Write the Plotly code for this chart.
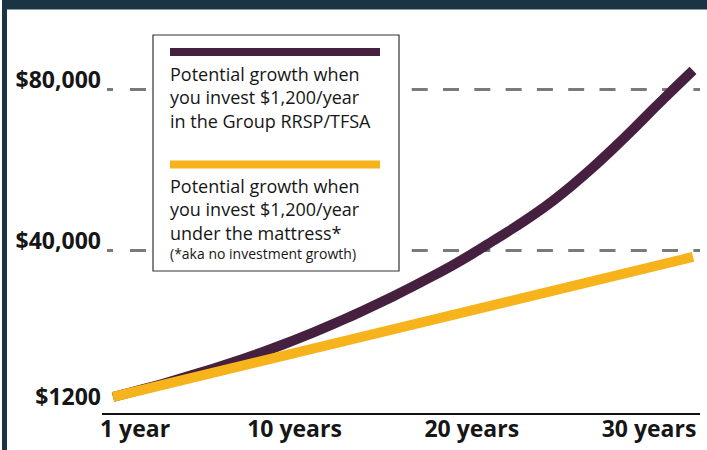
import plotly.graph_objects as go

# ---------------- data ----------------
years = list(range(1, 31))
rrsp_values = [1200, 2500, 3800, 5200, 6700, 8200, 9800, 11500, 13300, 15200,
               17200, 19300, 21500, 23800, 26200, 28700, 31300, 34000, 36900, 40000,
               43100, 46400, 50000, 54000, 58300, 62900, 67700, 72700, 77600, 82400]
mattress_values = [1200, 2400, 3600, 4800, 6000, 7200, 8400, 9600, 10800, 12000,
                   13200, 14400, 15600, 16800, 18000, 19200, 20400, 21600, 22800, 24000,
                   25200, 26400, 27600, 28800, 30000, 31200, 32400, 33600, 34800, 36000]
series_names = [
    "Potential growth when<br>you invest $1,200/year<br>in the Group RRSP/TFSA",
    "Potential growth when<br>you invest $1,200/year<br>under the mattress*",
]
footnote = "(*aka no investment growth)"
ytick_vals = [1200, 40000, 80000]
ytick_text = ["$1200", "$40,000", "$80,000"]
guide_vals = [40000, 80000]
xtick_vals = [1, 10, 20, 30]
xtick_text = ["1 year", "10 years", "20 years", "30 years"]

# ---------------- style ----------------
PURPLE = "#45203f"
YELLOW = "#f6b31b"
BORDER = "#1b3443"
DASH = "#7a7a7a"
TEXT = "#161616"
FONT = "Open Sans"

W, H = 707, 450
L, R, T, B = 102, 700, 10, 413


def px(x):
    return (x - L) / (R - L)


def py(y):
    return (B - y) / (B - T)


fig = go.Figure()
fig.add_trace(go.Scatter(x=years, y=rrsp_values, mode="lines",
                         line=dict(color=PURPLE, width=10, shape="spline",
                                   smoothing=0.6),
                         name="RRSP", showlegend=False, hoverinfo="skip"))
fig.add_trace(go.Scatter(x=years, y=mattress_values, mode="lines",
                         line=dict(color=YELLOW, width=10), name="Mattress",
                         showlegend=False, hoverinfo="skip"))
# empty trace so the label axis (x2) is drawn
fig.add_trace(go.Scatter(x=[], y=[], xaxis="x2", yaxis="y", mode="lines",
                         showlegend=False, hoverinfo="skip"))

shapes = []
dash_pattern = "6px,17px," + ",".join(["16px,15.3px"] * 20)
for v in guide_vals:
    shapes.append(dict(type="line", xref="paper", yref="y", ysizemode="pixel",
                       yanchor=v, y0=-9.5, y1=-9.5, x0=px(107), x1=px(700),
                       line=dict(color=DASH, width=3, dash=dash_pattern),
                       layer="below"))
# legend box
shapes.append(dict(type="rect", xref="paper", yref="paper",
                   x0=px(153), x1=px(399), y0=py(271), y1=py(35),
                   line=dict(color="#333333", width=1.2), fillcolor="white",
                   layer="above"))
for color, yc in [(PURPLE, 52), (YELLOW, 164.5)]:
    shapes.append(dict(type="rect", xref="paper", yref="paper",
                       x0=px(170), x1=px(380), y0=py(yc + 4), y1=py(yc - 4),
                       line=dict(width=0), fillcolor=color, layer="above"))
# frame borders
shapes.append(dict(type="rect", xref="paper", yref="paper",
                   x0=px(2), x1=px(707), y0=py(9), y1=py(0),
                   line=dict(width=0), fillcolor=BORDER, layer="above"))
shapes.append(dict(type="line", xref="paper", yref="paper",
                   x0=px(2), x1=px(707), y0=py(9.5), y1=py(9.5),
                   line=dict(width=1, color="#8c9ba4"), layer="above"))
shapes.append(dict(type="rect", xref="paper", yref="paper",
                   x0=px(2), x1=px(7), y0=py(450), y1=py(0),
                   line=dict(width=0), fillcolor=BORDER, layer="above"))

annotations = []
for name, yc in zip(series_names, [97, 209]):
    annotations.append(dict(xref="paper", yref="paper", x=px(169), y=py(yc),
                            xanchor="left", yanchor="middle", align="left",
                            showarrow=False, text=name, borderpad=0,
                            font=dict(family=FONT, size=18, color=TEXT)))
annotations.append(dict(xref="paper", yref="paper", x=px(169), y=py(253.5),
                        xanchor="left", yanchor="middle", align="left",
                        showarrow=False, text=footnote, borderpad=0,
                        font=dict(family=FONT, size=14, color=TEXT)))

fig.update_layout(
    width=W, height=H, autosize=False,
    margin=dict(l=L, r=W - R, t=T, b=H - B, pad=0),
    paper_bgcolor="white", plot_bgcolor="white",
    showlegend=False,
    shapes=shapes, annotations=annotations,
    xaxis=dict(range=[0.45, 30.35], showticklabels=False, showgrid=False,
               zeroline=False, showline=True, linecolor="#111111",
               linewidth=1.5, ticks="", fixedrange=True),
    xaxis2=dict(overlaying="x", side="bottom", range=[-0.862, 32.877],
                tickmode="array", tickvals=xtick_vals, ticktext=xtick_text,
                tickfont=dict(family=FONT, size=23, color=TEXT, weight="bold"),
                showgrid=False, zeroline=False, showline=False, ticks=""),
    yaxis=dict(range=[-2784, 97390], tickmode="array", tickvals=ytick_vals,
               ticktext=ytick_text,
               tickfont=dict(family=FONT, size=23, color=TEXT, weight="bold"),
               showgrid=False, zeroline=False, showline=False, ticks=""),
)

fig.write_html("out.html", config={"displayModeBar": False},
               post_script="document.body.style.margin='0px';")
